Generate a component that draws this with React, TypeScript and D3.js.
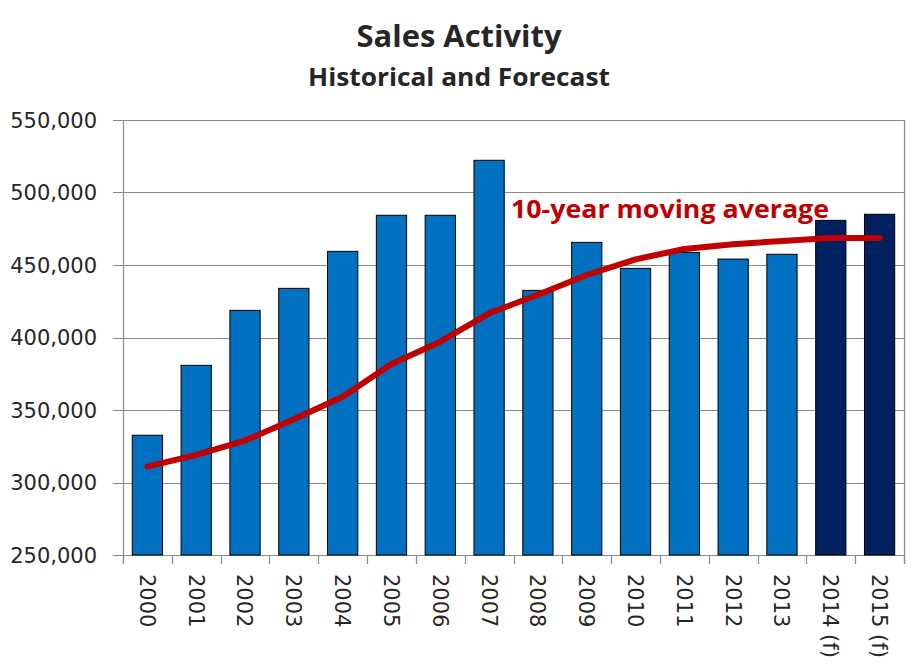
import React, { useEffect, useRef } from 'react';
import * as d3 from 'd3';

// data
const years = ['2000', '2001', '2002', '2003', '2004', '2005', '2006', '2007',
  '2008', '2009', '2010', '2011', '2012', '2013', '2014 (f)', '2015 (f)'];
const sales = [332600, 380800, 418700, 433900, 459400, 484300, 484300, 522200,
  432500, 465600, 447700, 458700, 454100, 457400, 480800, 485000];
const movingAvg = [310900, 319000, 328900, 343600, 359200, 381700, 397100, 416700,
  429500, 443100, 453900, 461000, 464300, 466600, 468600, 468600];
const forecast = [false, false, false, false, false, false, false, false,
  false, false, false, false, false, false, true, true];
const yTicks = [250000, 300000, 350000, 400000, 450000, 500000, 550000];

const App = () => {
  const svgRef = useRef(null);

  useEffect(() => {
    const width = 919;
    const height = 667;
    const margin = { top: 120, right: 15, bottom: 112, left: 123 };

    const svg = d3.select(svgRef.current);
    svg.selectAll('*').remove();
    svg.attr('width', width).attr('height', height);

    const innerW = width - margin.left - margin.right;
    const innerH = height - margin.top - margin.bottom;

    const x = d3.scaleBand()
      .domain(years)
      .range([0, innerW])
      .paddingInner(0.38)
      .paddingOuter(0.19);

    const y = d3.scaleLinear()
      .domain([250000, 550000])
      .range([innerH, 0]);

    const g = svg.append('g')
      .attr('transform', `translate(${margin.left},${margin.top})`);

    const gridColor = '#898989';
    const textColor = '#262626';

    // titles
    svg.append('text')
      .attr('x', 459)
      .attr('y', 47)
      .attr('text-anchor', 'middle')
      .attr('font-family', '"Open Sans", sans-serif')
      .attr('font-weight', 'bold')
      .attr('font-size', '31px')
      .attr('textLength', 205)
      .attr('lengthAdjust', 'spacingAndGlyphs')
      .attr('fill', textColor)
      .text('Sales Activity');

    svg.append('text')
      .attr('x', 459)
      .attr('y', 86)
      .attr('text-anchor', 'middle')
      .attr('font-family', '"Open Sans", sans-serif')
      .attr('font-weight', 'bold')
      .attr('font-size', '25px')
      .attr('textLength', 302)
      .attr('lengthAdjust', 'spacingAndGlyphs')
      .attr('fill', textColor)
      .text('Historical and Forecast');

    // gridlines
    g.append('g')
      .selectAll('line')
      .data(yTicks)
      .enter()
      .append('line')
      .attr('x1', -10)
      .attr('x2', innerW)
      .attr('y1', d => Math.round(y(d)) + 0.5)
      .attr('y2', d => Math.round(y(d)) + 0.5)
      .attr('stroke', gridColor)
      .attr('stroke-width', 1.2);

    // plot borders left/right
    g.append('line')
      .attr('x1', 0.5).attr('x2', 0.5)
      .attr('y1', 0).attr('y2', innerH + 9)
      .attr('stroke', gridColor).attr('stroke-width', 1.2);
    g.append('line')
      .attr('x1', innerW + 0.5).attr('x2', innerW + 0.5)
      .attr('y1', 0).attr('y2', innerH + 9)
      .attr('stroke', gridColor).attr('stroke-width', 1.2);

    // y labels
    g.append('g')
      .selectAll('text')
      .data(yTicks)
      .enter()
      .append('text')
      .attr('x', -26)
      .attr('y', d => y(d))
      .attr('dy', '0.36em')
      .attr('text-anchor', 'end')
      .attr('font-family', '"DejaVu Sans", sans-serif')
      .attr('font-size', '21px')
      .attr('fill', textColor)
      .text(d => d3.format(',')(d));

    // category ticks at band boundaries
    const bounds = years.map(d => x(d) - (x.step() - x.bandwidth()) / 2).concat([innerW]);
    g.append('g')
      .selectAll('line')
      .data(bounds)
      .enter()
      .append('line')
      .attr('x1', d => Math.round(d) + 0.5)
      .attr('x2', d => Math.round(d) + 0.5)
      .attr('y1', innerH)
      .attr('y2', innerH + 9)
      .attr('stroke', gridColor)
      .attr('stroke-width', 1.2);

    // bars
    g.append('g')
      .selectAll('rect')
      .data(years)
      .enter()
      .append('rect')
      .attr('x', d => x(d))
      .attr('y', (d, i) => y(sales[i]))
      .attr('width', x.bandwidth())
      .attr('height', (d, i) => innerH - y(sales[i]))
      .attr('fill', (d, i) => forecast[i] ? '#002060' : '#0070C0')
      .attr('stroke', '#000')
      .attr('stroke-width', 1);

    // x labels (rotated)
    g.append('g')
      .selectAll('text')
      .data(years)
      .enter()
      .append('text')
      .attr('transform', d => `translate(${x(d) + x.bandwidth() / 2},${innerH + 19}) rotate(90)`)
      .attr('dy', '0.36em')
      .attr('text-anchor', 'start')
      .attr('font-family', '"DejaVu Sans", sans-serif')
      .attr('font-size', '21px')
      .attr('fill', textColor)
      .text(d => d);

    // moving average line
    const line = d3.line()
      .x((d, i) => x(years[i]) + x.bandwidth() / 2)
      .y(d => y(d));

    g.append('path')
      .datum(movingAvg)
      .attr('d', line)
      .attr('fill', 'none')
      .attr('stroke', '#C00000')
      .attr('stroke-width', 6)
      .attr('stroke-linecap', 'round')
      .attr('stroke-linejoin', 'round');

    svg.append('text')
      .attr('x', 511)
      .attr('y', 218)
      .attr('font-family', '"Open Sans", sans-serif')
      .attr('font-weight', 'bold')
      .attr('font-size', '25px')
      .attr('textLength', 318)
      .attr('lengthAdjust', 'spacingAndGlyphs')
      .attr('fill', '#C00000')
      .text('10-year moving average');
  }, []);

  return (
    <svg ref={svgRef} style={{ position: 'absolute', left: 0, top: 0, background: '#fff' }}></svg>
  );
};

export default App;
